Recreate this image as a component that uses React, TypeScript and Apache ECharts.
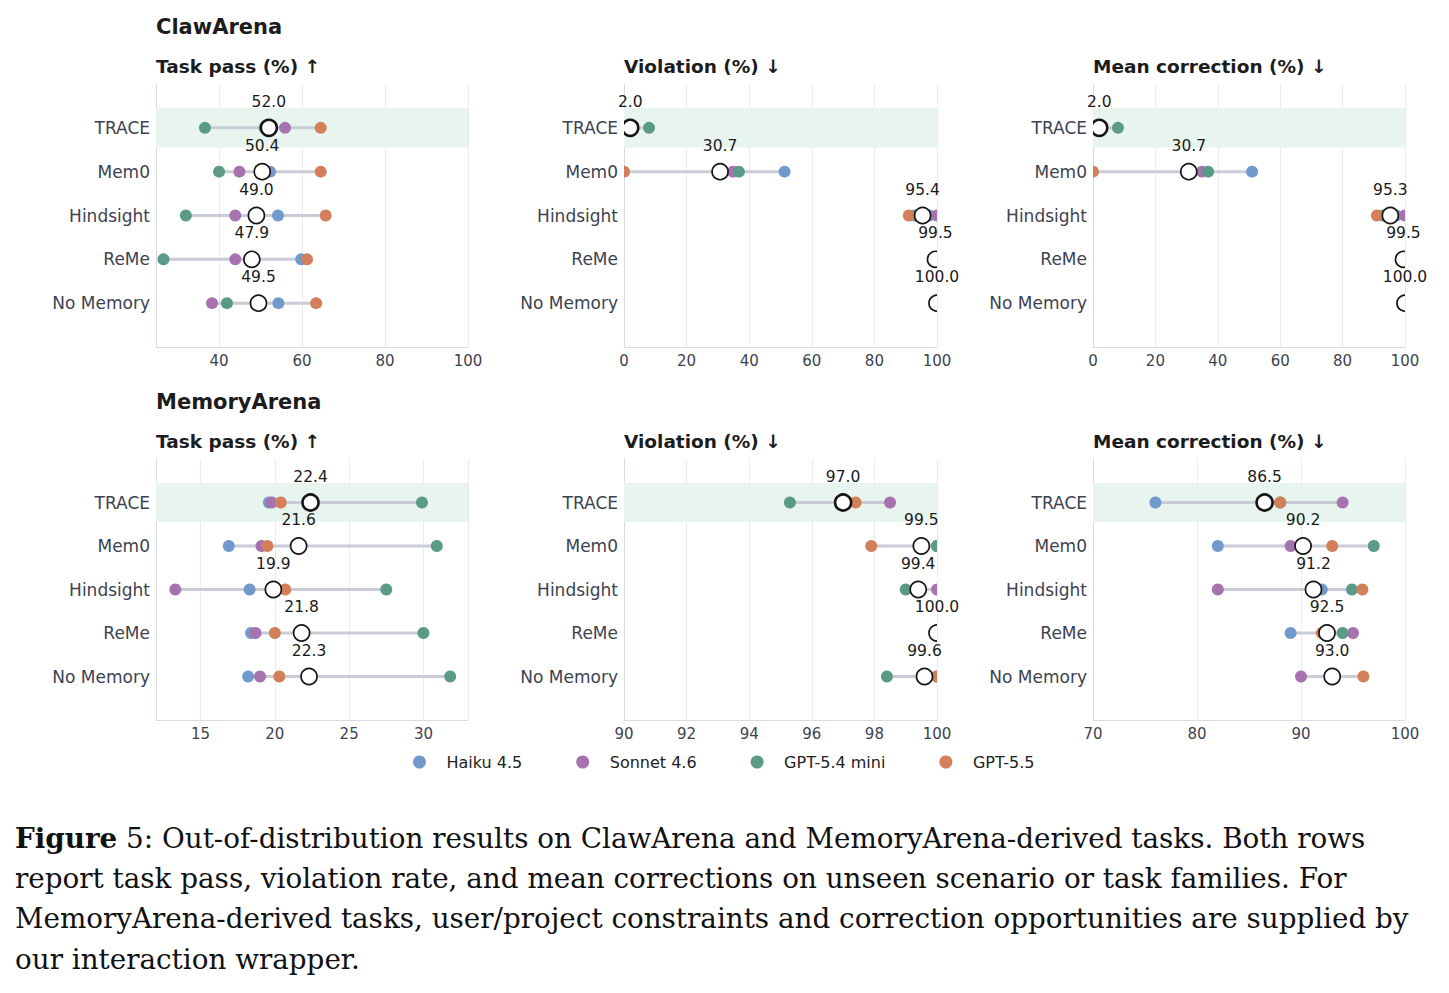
import React, { useEffect, useRef } from 'react';
import * as echarts from 'echarts';

const categories = ['TRACE', 'Mem0', 'Hindsight', 'ReMe', 'No Memory'];
const models = ['Haiku 4.5', 'Sonnet 4.6', 'GPT-5.4 mini', 'GPT-5.5'];
const modelColors = ['#7299cb', '#a673b0', '#5b9a86', '#d27f5a'];

// ClawArena – Task pass (%)
const clawPassHaiku = [51.0, 52.3, 54.2, 59.8, 54.3];
const clawPassSonnet = [55.9, 44.9, 43.9, 43.9, 38.3];
const clawPassMini = [36.6, 40.0, 32.0, 26.6, 41.9];
const clawPassGpt55 = [64.5, 64.5, 65.7, 61.2, 63.4];
const clawPassMean = [52.0, 50.4, 49.0, 47.9, 49.5];

// ClawArena – Violation (%)
const clawViolHaiku = [0, 51.3, 97.5, 99.0, 100];
const clawViolSonnet = [0, 34.8, 100, 99.0, 100];
const clawViolMini = [8.0, 36.7, 93.0, 100, 100];
const clawViolGpt55 = [0, 0, 91.0, 100, 100];
const clawViolMean = [2.0, 30.7, 95.4, 99.5, 100.0];

// ClawArena – Mean correction (%)
const clawCorrHaiku = [0, 51.0, 97.2, 99.0, 100];
const clawCorrSonnet = [0, 34.9, 100, 99.0, 100];
const clawCorrMini = [8.0, 36.9, 93.0, 100, 100];
const clawCorrGpt55 = [0, 0, 91.0, 100, 100];
const clawCorrMean = [2.0, 30.7, 95.3, 99.5, 100.0];

// MemoryArena – Task pass (%)
const memPassHaiku = [19.6, 16.9, 18.3, 18.4, 18.2];
const memPassSonnet = [19.8, 19.1, 13.3, 18.7, 19.0];
const memPassMini = [29.9, 30.9, 27.5, 30.0, 31.8];
const memPassGpt55 = [20.4, 19.5, 20.7, 20.0, 20.3];
const memPassMean = [22.4, 21.6, 19.9, 21.8, 22.3];

// MemoryArena – Violation (%)
const memViolHaiku = [96.9, 100, 99.3, 100, 100];
const memViolSonnet = [98.5, 100, 100, 100, 100];
const memViolMini = [95.3, 100, 99.0, 100, 98.4];
const memViolGpt55 = [97.4, 97.9, 99.3, 100, 100];
const memViolMean = [97.0, 99.5, 99.4, 100.0, 99.6];

// MemoryArena – Mean correction (%)
const memCorrHaiku = [76.0, 82.0, 92.0, 89.0, 93.0];
const memCorrSonnet = [94.0, 89.0, 82.0, 95.0, 90.0];
const memCorrMini = [88.0, 97.0, 94.9, 94.0, 93.0];
const memCorrGpt55 = [88.0, 93.0, 95.9, 92.0, 96.0];
const memCorrMean = [86.5, 90.2, 91.2, 92.5, 93.0];

const rowTitles = ['ClawArena', 'MemoryArena'];
const panelTitles = ['Task pass (%) ↑', 'Violation (%) ↓', 'Mean correction (%) ↓'];

const captionLines = [
  '{b|Figure} 5: Out-of-distribution results on ClawArena and MemoryArena-derived tasks. Both rows',
  'report task pass, violation rate, and mean corrections on unseen scenario or task families. For',
  'MemoryArena-derived tasks, user/project constraints and correction opportunities are supplied by',
  'our interaction wrapper.',
];

const panels = [
  { min: 24.8, max: 100, step: 20, vals: [clawPassHaiku, clawPassSonnet, clawPassMini, clawPassGpt55], mean: clawPassMean },
  { min: 0, max: 100, step: 20, vals: [clawViolHaiku, clawViolSonnet, clawViolMini, clawViolGpt55], mean: clawViolMean },
  { min: 0, max: 100, step: 20, vals: [clawCorrHaiku, clawCorrSonnet, clawCorrMini, clawCorrGpt55], mean: clawCorrMean },
  { min: 12, max: 33, step: 5, vals: [memPassHaiku, memPassSonnet, memPassMini, memPassGpt55], mean: memPassMean },
  { min: 90, max: 100, step: 2, vals: [memViolHaiku, memViolSonnet, memViolMini, memViolGpt55], mean: memViolMean },
  { min: 70, max: 100, step: 10, vals: [memCorrHaiku, memCorrSonnet, memCorrMini, memCorrGpt55], mean: memCorrMean },
];

const colLefts = [156, 624, 1093];
const colWidths = [312, 313, 312];
const rowTops = [84, 459];
const rowHeights = [263, 261];

const SANS = '"DejaVu Sans", sans-serif';
const SERIF = '"DejaVu Serif", serif';
const axisGray = '#d8dce5';
const gridGray = '#e8ebf1';
const labelColor = '#3d4250';

function buildOption() {
  const grid: any[] = [];
  const xAxis: any[] = [];
  const yAxis: any[] = [];
  const series: any[] = [];

  panels.forEach((p, i) => {
    const row = Math.floor(i / 3);
    const col = i % 3;
    grid.push({ left: colLefts[col], top: rowTops[row], width: colWidths[col], height: rowHeights[row] });
    const aligned = p.min % p.step === 0;
    xAxis.push({
      gridIndex: i,
      type: 'value',
      min: p.min,
      max: p.max,
      ...(aligned ? { interval: p.step } : { minInterval: p.step, maxInterval: p.step }),
      axisLine: { show: true, onZero: false, lineStyle: { color: axisGray, width: 1 } },
      axisTick: { show: false },
      axisLabel: {
        color: labelColor,
        fontSize: 15,
        fontFamily: SANS,
        margin: 6,
        showMinLabel: aligned,
        showMaxLabel: p.max % p.step === 0,
      },
      splitLine: { show: true, lineStyle: { color: gridGray, width: 1 } },
    });
    yAxis.push({
      gridIndex: i,
      type: 'value',
      min: -1,
      max: 5,
      interval: 1,
      inverse: true,
      axisLine: { show: true, onZero: false, lineStyle: { color: axisGray, width: 1 } },
      axisTick: { show: false },
      splitLine: { show: false },
      axisLabel: {
        color: labelColor,
        fontSize: 17,
        fontFamily: SANS,
        margin: 6,
        formatter: (v: number) => categories[v] ?? '',
      },
    });

    // highlight band for TRACE
    series.push({
      type: 'custom',
      xAxisIndex: i,
      yAxisIndex: i,
      z: 1,
      clip: true,
      silent: true,
      data: [[p.min, 0]],
      encode: { x: 0, y: 1 },
      renderItem: (params: any, api: any) => {
        const cs = params.coordSys;
        const y0 = api.coord([p.min, -0.45])[1];
        const y1 = api.coord([p.min, 0.45])[1];
        return {
          type: 'rect',
          shape: { x: cs.x, y: y0, width: cs.width, height: y1 - y0 },
          style: { fill: '#e8f5ee' },
        };
      },
    });

    // range lines
    const rangeData = categories.map((_, r) => {
      const vs = p.vals.map((a) => a[r]);
      return [Math.min(...vs), Math.max(...vs), r];
    });
    series.push({
      type: 'custom',
      xAxisIndex: i,
      yAxisIndex: i,
      z: 2,
      clip: true,
      silent: true,
      data: rangeData,
      encode: { x: [0, 1], y: 2 },
      renderItem: (params: any, api: any) => {
        const a = api.coord([api.value(0), api.value(2)]);
        const b = api.coord([api.value(1), api.value(2)]);
        return {
          type: 'line',
          shape: { x1: a[0], y1: a[1], x2: b[0], y2: b[1] },
          style: { stroke: '#c9ccd6', lineWidth: 3 },
        };
      },
    });

    // model dots
    p.vals.forEach((arr, m) => {
      series.push({
        type: 'custom',
        name: models[m],
        xAxisIndex: i,
        yAxisIndex: i,
        z: 3 + m * 0.1,
        clip: true,
        itemStyle: { color: modelColors[m] },
        data: arr.map((v, r) => [v, r]),
        encode: { x: 0, y: 1 },
        renderItem: (params: any, api: any) => {
          const c = api.coord([api.value(0), api.value(1)]);
          return {
            type: 'circle',
            shape: { cx: c[0], cy: c[1], r: 6 },
            style: { fill: modelColors[m] },
          };
        },
      });
    });

    // mean markers
    series.push({
      type: 'custom',
      xAxisIndex: i,
      yAxisIndex: i,
      z: 4,
      clip: true,
      data: p.mean.map((v, r) => [v, r]),
      encode: { x: 0, y: 1 },
      renderItem: (params: any, api: any) => {
        const c = api.coord([api.value(0), api.value(1)]);
        const isTrace = api.value(1) === 0;
        return {
          type: 'circle',
          shape: { cx: c[0], cy: c[1], r: 8 },
          style: { fill: '#ffffff', stroke: '#151515', lineWidth: isTrace ? 2.6 : 1.7 },
        };
      },
    });

    // mean labels
    series.push({
      type: 'custom',
      xAxisIndex: i,
      yAxisIndex: i,
      z: 5,
      clip: false,
      data: p.mean.map((v, r) => [v, r]),
      encode: { x: 0, y: 1 },
      renderItem: (params: any, api: any) => {
        const c = api.coord([api.value(0), api.value(1)]);
        return {
          type: 'text',
          x: c[0],
          y: c[1] - 26,
          style: {
            text: Number(api.value(0)).toFixed(1),
            fill: '#1a1a1a',
            font: `15.5px ${SANS}`,
            align: 'center',
            verticalAlign: 'middle',
          },
        };
      },
    });
  });

  const graphic: any[] = [];
  rowTitles.forEach((t, r) => {
    graphic.push({
      type: 'text',
      x: 156,
      y: r === 0 ? 27 : 402,
      style: { text: t, fill: '#1c1c1c', font: `bold 21px ${SANS}`, align: 'left', verticalAlign: 'middle' },
    });
    panelTitles.forEach((pt, c) => {
      graphic.push({
        type: 'text',
        x: colLefts[c],
        y: r === 0 ? 66 : 441,
        style: { text: pt, fill: '#1c1c1c', font: `bold 18.5px ${SANS}`, align: 'left', verticalAlign: 'middle' },
      });
    });
  });
  captionLines.forEach((line, k) => {
    graphic.push({
      type: 'text',
      x: 15,
      y: 838 + k * 40.4,
      style: {
        text: line,
        fill: '#111111',
        font: `27.8px ${SERIF}`,
        align: 'left',
        verticalAlign: 'middle',
        rich: { b: { font: `bold 27.8px ${SERIF}`, fill: '#111111' } },
      },
    });
  });

  return {
    animation: false,
    backgroundColor: '#ffffff',
    grid,
    xAxis,
    yAxis,
    series,
    graphic,
    legend: {
      data: models,
      left: 408,
      top: 749,
      icon: 'circle',
      itemWidth: 44,
      itemHeight: 13,
      itemGap: 54,
      selectedMode: false,
      textStyle: { fontSize: 16, color: '#222222', fontFamily: SANS },
    },
  };
}

export default function App() {
  const ref = useRef<HTMLDivElement>(null);
  useEffect(() => {
    if (!ref.current) return;
    const chart = echarts.init(ref.current, undefined, { renderer: 'svg' });
    chart.setOption(buildOption() as any);
    return () => chart.dispose();
  }, []);
  return (
    <div
      ref={ref}
      style={{ position: 'absolute', left: 0, top: 0, width: 1449, height: 993, background: '#fff' }}
    />
  );
}
